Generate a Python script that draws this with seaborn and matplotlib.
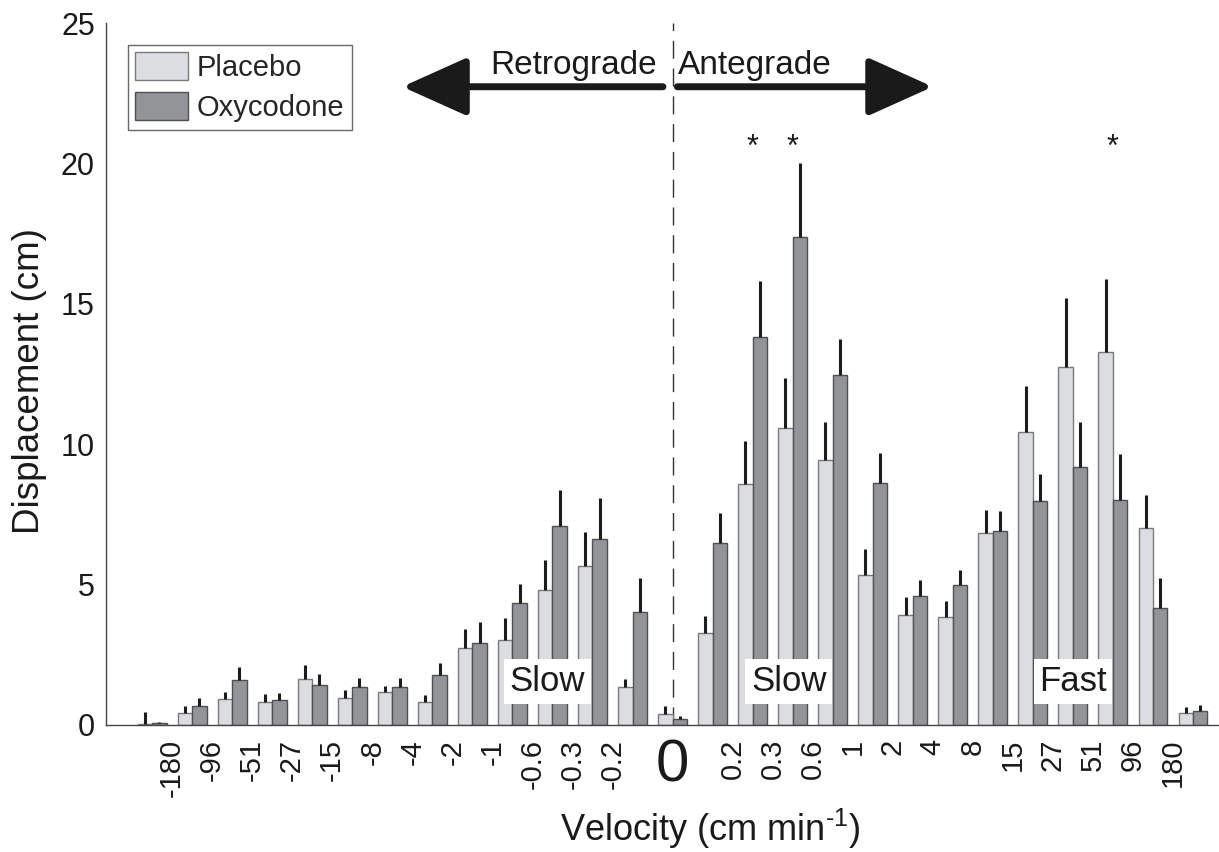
import pandas as pd
import numpy as np
import matplotlib.pyplot as plt
import seaborn as sns

# velocity bins (cm/min); bar pairs sit between the labelled edges
bins = ["<-180", "-180:-96", "-96:-51", "-51:-27", "-27:-15", "-15:-8", "-8:-4",
        "-4:-2", "-2:-1", "-1:-0.6", "-0.6:-0.3", "-0.3:-0.2", "-0.2:0", "0",
        "0:0.2", "0.2:0.3", "0.3:0.6", "0.6:1", "1:2", "2:4", "4:8", "8:15",
        "15:27", "27:51", "51:96", "96:180", ">180"]

placebo = [0.03, 0.43, 0.91, 0.83, 1.65, 0.95, 1.16, 0.81, 2.73, 3.01, 4.79, 5.66, 1.36, 0.39,
           3.26, 8.57, 10.59, 9.45, 5.33, 3.92, 3.83, 6.85, 10.44, 12.74, 13.30, 7.03, 0.41]
placebo_sem = [0.42, 0.26, 0.27, 0.27, 0.49, 0.29, 0.24, 0.26, 0.68, 0.79, 1.09, 1.21, 0.28, 0.30,
               0.63, 1.54, 1.75, 1.35, 0.93, 0.64, 0.59, 0.81, 1.63, 2.46, 2.60, 1.15, 0.22]
oxycodone = [0.08, 0.69, 1.61, 0.89, 1.42, 1.36, 1.36, 1.78, 2.92, 4.36, 7.09, 6.64, 4.03, 0.21,
             6.47, 13.82, 17.37, 12.48, 8.61, 4.60, 4.98, 6.91, 7.96, 9.19, 8.00, 4.16, 0.49]
oxycodone_sem = [0.04, 0.27, 0.44, 0.24, 0.38, 0.32, 0.32, 0.42, 0.73, 0.65, 1.28, 1.46, 1.21, 0.12,
                 1.09, 1.98, 2.64, 1.25, 1.09, 0.56, 0.53, 0.71, 0.99, 1.60, 1.66, 1.07, 0.23]

left_edges = ["-180", "-96", "-51", "-27", "-15", "-8", "-4", "-2", "-1", "-0.6", "-0.3", "-0.2"]
right_edges = ["0.2", "0.3", "0.6", "1", "2", "4", "8", "15", "27", "51", "96", "180"]
star_bins = ["0.2:0.3", "0.3:0.6", "51:96"]

groups = ["Placebo", "Oxycodone"]
colors = ["#dcdde0", "#939498"]
edges = ["#7a7a7c", "#505052"]

df = pd.DataFrame({
    "bin": bins * 2,
    "disp": placebo + oxycodone,
    "group": ["Placebo"] * len(bins) + ["Oxycodone"] * len(bins),
})

sns.set_style("white")
plt.rcParams["font.family"] = ["Liberation Sans", "DejaVu Sans"]
plt.rcParams["mathtext.fontset"] = "custom"
plt.rcParams["mathtext.rm"] = "Liberation Sans"

fig = plt.figure(figsize=(12.19, 8.52), dpi=100)
ax = fig.add_axes([0.0870, 0.1491, 0.9130, 0.8239])

sns.barplot(data=df, x="bin", y="disp", hue="group", order=bins, hue_order=groups,
            palette=colors, width=0.72, errorbar=None, linewidth=1.0, legend=False,
            saturation=1, ax=ax)

for cont, sem, ec in zip(ax.containers, [placebo_sem, oxycodone_sem], edges):
    for bar, e in zip(cont, sem):
        bar.set_edgecolor(ec)
        xc = bar.get_x() + bar.get_width() / 2
        h = bar.get_height()
        ax.vlines(xc, h, h + e, color="#1c1c1c", lw=2.2, zorder=1)

ax.set_xlim(-1.15, 26.65)
ax.set_ylim(0, 25)

# zero-velocity divider
zero = bins.index("0")
ax.axvline(zero, color="#333333", lw=1.0, dashes=(13, 7), zorder=0)

# tick labels on bin edges
pos = [i + 0.5 for i in range(len(left_edges))] + [zero] + \
      [zero + 1.5 + i for i in range(len(right_edges))]
ax.set_xticks(pos)
ax.set_xticklabels(left_edges + ["0"] + right_edges, rotation=90, fontsize=21, color="#1a1a1a")
for lab in ax.get_xticklabels():
    if lab.get_text() == "0":
        lab.set_rotation(0)
        lab.set_fontsize(43)
ax.tick_params(axis="x", length=0, pad=10)
ax.set_yticks([0, 5, 10, 15, 20, 25])
ax.tick_params(axis="y", direction="in", length=8.5, width=1, labelsize=22, pad=8,
               color="#444444", labelcolor="#1a1a1a")

for s in ["top", "right"]:
    ax.spines[s].set_visible(False)
for s in ["left", "bottom"]:
    ax.spines[s].set_color("#444444")
    ax.spines[s].set_linewidth(1.0)

ax.set_ylabel("Displacement (cm)", fontsize=26.5, color="#1a1a1a")
ax.yaxis.set_label_coords(-0.053, 0.49)
ax.set_xlabel("Velocity (cm min$^{\\text{-1}}$)", fontsize=26, color="#1a1a1a")
ax.xaxis.set_label_coords(0.543, -0.117)

# significance stars
for b in star_bins:
    ax.text(bins.index(b), 20.25, "*", ha="center", va="baseline", fontsize=22, color="#1a1a1a")

# speed range labels
for xt, t in [(9.87, "Slow"), (15.9, "Slow"), (23.0, "Fast")]:
    ax.text(xt, 1.55, t, ha="center", va="center", fontsize=25, color="#1a1a1a", zorder=5,
            bbox=dict(facecolor="white", edgecolor="none", pad=4))

# direction arrows
arrow = dict(arrowstyle="-|>,head_length=40,head_width=18", lw=5, color="#1a1a1a",
             mutation_scale=1, shrinkA=0, shrinkB=0)
ax.annotate("", xy=(6.25, 22.73), xytext=(12.76, 22.73), arrowprops=arrow)
ax.annotate("", xy=(19.5, 22.73), xytext=(13.12, 22.73), arrowprops=arrow)
ax.text(12.6, 23.2, "Retrograde", ha="right", va="baseline", fontsize=24, color="#1a1a1a")
ax.text(13.13, 23.2, "Antegrade", ha="left", va="baseline", fontsize=24, color="#1a1a1a")

leg = ax.legend(ax.containers, groups, loc="upper left", bbox_to_anchor=(0.0198, 0.9687),
                borderaxespad=0, fontsize=21, frameon=True, fancybox=False,
                handlelength=1.8, handleheight=1.1, handletextpad=0.3,
                borderpad=0.25, labelspacing=0.35)
leg.get_frame().set_edgecolor("#444444")
leg.get_frame().set_linewidth(1.0)

fig.savefig("out.png", dpi=100)
